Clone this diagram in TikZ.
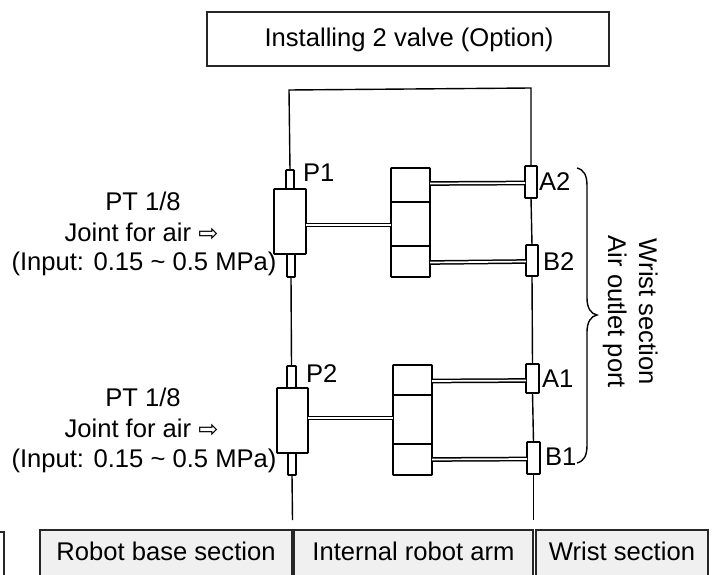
\documentclass[tikz,border=0pt]{standalone}
\usepackage{fontspec}
\setmainfont{Liberation Sans}
\newfontfamily\symfont{DejaVu Sans}
\definecolor{panel}{HTML}{F0F0F0}
\tikzset{
  x=1pt,y=-1pt,
  every node/.style={inner sep=0pt,outer sep=0pt},
  wire/.style={line width=1.4pt,black},
  part/.style={draw=black,line width=1.7pt,fill=white,rounded corners=0.5pt},
  pipe/.style={line width=1.5pt,double=white,double distance=1.7pt,draw=black},
  panelbox/.style={draw=black!85,line width=1.2pt,fill=panel},
  titlebox/.style={draw=black!85,line width=1.2pt,fill=white},
  txt/.style={font=\fontsize{25.6}{30}\selectfont,text=black,anchor=base},
  txtl/.style={txt,anchor=base west},
  rot/.style={font=\fontsize{25.6}{30}\selectfont,text=black,anchor=base,rotate=-90},
}
\newcommand{\partbox}[5]{\node[part,minimum width=#4-#2,minimum height=#5-#3] (#1) at ({(#2+#4)/2},{(#3+#5)/2}) {};}
\newcommand{\hollowarrow}{{\symfont\fontsize{24}{26}\selectfont ⇨}}
\begin{document}
\begin{tikzpicture}
\useasboundingbox (0,0) rectangle (717,575);
\clip (0,0) rectangle (717,575);
% title
\node[titlebox,minimum width=402,minimum height=54] (title) at (408,39) {};
\node[txt] (titletext) at (409,47) {Installing 2 valve (Option)};
% bottom panels
\node[panelbox,fill=white,minimum width=100,minimum height=90] (pzero) at (-46,577) {};
\node[panelbox,minimum width=252,minimum height=90] (pbase) at (166,575) {};
\node[panelbox,minimum width=239,minimum height=90] (parm) at (413.5,575) {};
\node[panelbox,minimum width=172,minimum height=90] (pwrist) at (622,575) {};
\node[txt] (tbase) at (166,560) {Robot base section};
\node[txt] (tarm) at (413.5,560) {Internal robot arm};
\node[txt] (twrist) at (622,560) {Wrist section};
% parts, upper group
\partbox{p1}{286}{170}{294}{189}
\partbox{v1}{274}{189}{306}{254}
\partbox{q1}{287}{254}{295}{277}
\partbox{m1a}{391}{168}{430}{202}
\partbox{m1b}{391}{202}{430}{246}
\partbox{m1c}{391}{246}{430}{277}
\partbox{a2}{525}{166}{537}{198}
\partbox{b2}{526}{245}{538}{276}
% parts, lower group
\partbox{p2}{287}{366}{296}{388}
\partbox{v2}{277}{388}{308}{453}
\partbox{q2}{288}{453}{296}{475}
\partbox{m2a}{393}{365}{432}{395}
\partbox{m2b}{393}{395}{432}{444}
\partbox{m2c}{393}{444}{432}{475}
\partbox{a1}{526}{364}{539}{393}
\partbox{b1}{527}{442}{540}{474}
% wires
\coordinate (topl) at (289,90);
\coordinate (topr) at (531,88);
\coordinate (endl) at (292.5,520);
\coordinate (endr) at (533.5,520);
\draw[wire] (p1.north) -- (topl) -- (topr) -- (a2.north);
\draw[wire] (a2.south) -- (b2.north);
\draw[wire] (b2.south) -- (a1.north);
\draw[wire] (a1.south) -- (b1.north);
\draw[wire] (b1.south) -- (endr);
\draw[wire] (q1.south) -- (p2.north);
\draw[wire] (q2.south) -- (endl);
% pipes
\draw[pipe] ([yshift=-3.5pt]v1.east) -- ([yshift=-1pt]m1b.west);
\draw[pipe] ([yshift=1.5pt]m1a.east) -- ([yshift=-1pt]a2.west);
\draw[pipe] ([yshift=-1pt]m1c.east) -- ([yshift=-1pt]b2.west);
\draw[pipe] ([yshift=2.5pt]v2.east) -- ([yshift=1.5pt]m2b.west);
\draw[pipe] ([yshift=-1pt]m2a.east) -- ([yshift=-2pt]a1.west);
\draw[pipe] ([yshift=0pt]m2c.east) -- ([yshift=-1pt]b1.west);
% port labels
\node[txtl] (lp1) at (303,181) {P1};
\node[txtl] (la2) at (539,190) {A2};
\node[txtl] (lb2) at (543,270) {B2};
\node[txtl] (lp2) at (306,382) {P2};
\node[txtl] (la1) at (542,387) {A1};
\node[txtl] (lb1) at (545,465) {B1};
% left notes
\node[txt] (n1a) at (143,210) {PT 1/8};
\node[txt] (n1b) at (141.5,241) {Joint for air \hollowarrow};
\node[txt] (n1c) at (144,270) {(Input: 0.15 \textasciitilde{} 0.5 MPa)};
\node[txt] (n2a) at (143,406) {PT 1/8};
\node[txt] (n2b) at (141.5,437) {Joint for air \hollowarrow};
\node[txt] (n2c) at (144,467) {(Input: 0.15 \textasciitilde{} 0.5 MPa)};
% brace
\draw[wire] (577,168) .. controls (584,170) and (587,175) .. (587,186)
  -- (587,298) .. controls (587,308) and (591,314) .. (597,315)
  .. controls (591,316) and (587,322) .. (587,332)
  -- (587,445) .. controls (587,456) and (584,461) .. (577,463);
% rotated labels
\node[rot] (r1) at (639,312) {Wrist section};
\node[rot] (r2) at (608,312) {Air outlet port};
\end{tikzpicture}
\end{document}
